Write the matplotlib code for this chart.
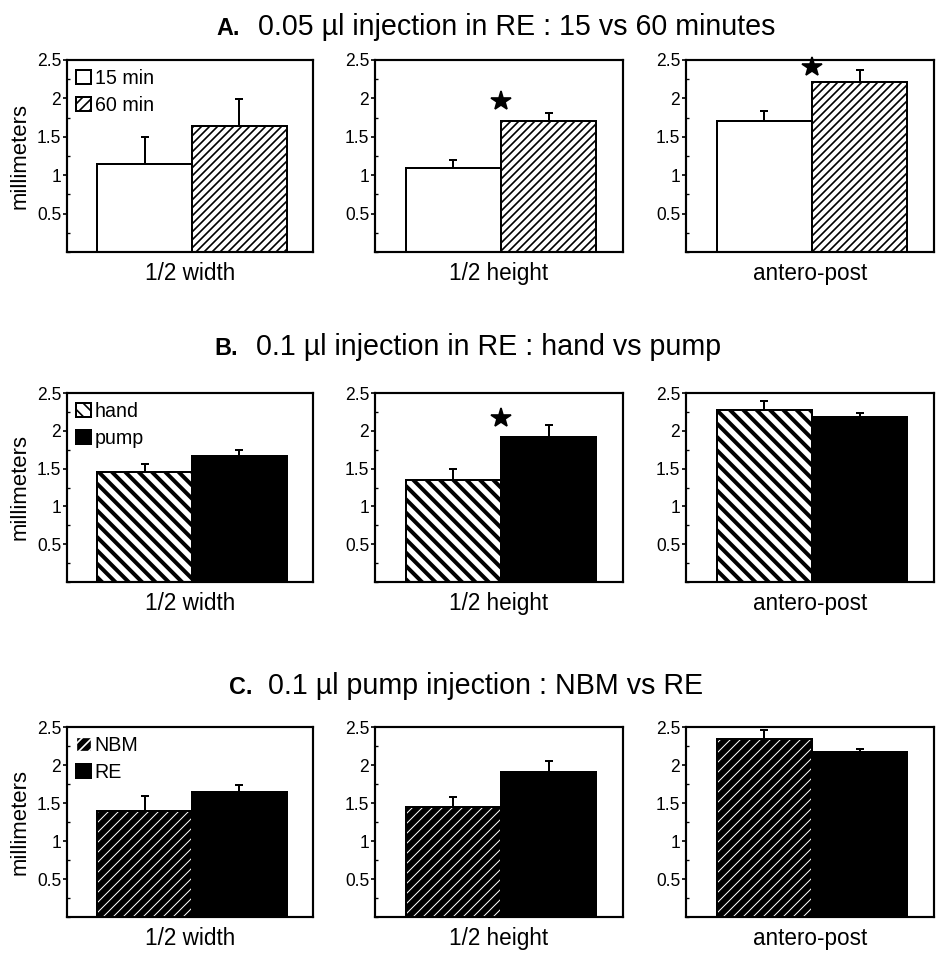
import matplotlib
matplotlib.use("Agg")
import matplotlib.pyplot as plt
from matplotlib.patches import Patch
from matplotlib.ticker import MultipleLocator, FixedLocator

plt.rcParams['font.family'] = ['Liberation Sans', 'DejaVu Sans']

# Data (mm); each panel: (bar values, upper error tops)
measures = ["1/2 width", "1/2 height", "antero-post"]

a_labels = ["15 min", "60 min"]
a_vals = [[1.14, 1.64], [1.10, 1.71], [1.71, 2.21]]
a_err = [[1.50, 1.99], [1.20, 1.81], [1.83, 2.37]]
a_star = [False, True, True]

b_labels = ["hand", "pump"]
b_vals = [[1.46, 1.67], [1.35, 1.92], [2.28, 2.18]]
b_err = [[1.56, 1.75], [1.49, 2.08], [2.39, 2.24]]
b_star = [False, True, False]

c_labels = ["NBM", "RE"]
c_vals = [[1.39, 1.65], [1.45, 1.91], [2.34, 2.17]]
c_err = [[1.59, 1.74], [1.58, 2.05], [2.46, 2.21]]
c_star = [False, False, False]

titles = [("A.", "0.05 \u00b5l injection in RE : 15 vs 60 minutes"),
          ("B.", "0.1 \u00b5l injection in RE : hand vs pump"),
          ("C.", "0.1 \u00b5l pump injection : NBM vs RE")]

W, H = 942, 954
fig = plt.figure(figsize=(W / 120, H / 120), dpi=120)

col_px = [(67, 246), (375, 248), (686, 248)]
row_px = [(60, 252), (393, 582), (727, 917)]
title_px = [(240, 258, 35), (238, 256, 355), (253, 268, 694)]


def style_bar(patch, hatch=None, hlw=1.0, fc='white', ec='black'):
    patch.set_facecolor(fc)
    patch.set_edgecolor(ec)
    if hatch:
        patch.set_hatch(hatch)
        try:
            patch.set_hatch_linewidth(hlw)
        except AttributeError:
            pass


def draw_first(ax, x, v, kind):
    if kind == 'A':
        b = ax.bar([x], [v], width=1.0, linewidth=1.2)[0]
        style_bar(b)
    elif kind == 'B':
        b = ax.bar([x], [v], width=1.0, linewidth=1.2)[0]
        style_bar(b, hatch='\\\\\\', hlw=2.4)
    else:
        b = ax.bar([x], [v], width=1.0, linewidth=0)[0]
        style_bar(b, hatch='////', hlw=0.6, fc='black', ec='white')
        b.set_linewidth(0)
        ax.bar([x], [v], width=1.0, linewidth=1.2, fill=False,
               edgecolor='black')


def draw_second(ax, x, v, kind):
    b = ax.bar([x], [v], width=1.0, linewidth=1.2)[0]
    if kind == 'A':
        style_bar(b, hatch='/////', hlw=1.0)
    else:
        style_bar(b, fc='black')


def legend_handles(kind):
    if kind == 'A':
        h1 = Patch(facecolor='white', edgecolor='black', linewidth=1.2)
        h2 = Patch(facecolor='white', edgecolor='black', linewidth=1.2, hatch='////')
    elif kind == 'B':
        h1 = Patch(facecolor='white', edgecolor='black', linewidth=1.2, hatch='\\\\\\')
        h2 = Patch(facecolor='black', edgecolor='black', linewidth=1.2)
    else:
        h1 = Patch(facecolor='black', edgecolor='white', linewidth=0.8, hatch='////')
        h2 = Patch(facecolor='black', edgecolor='black', linewidth=1.2)
    try:
        h1.set_hatch_linewidth(1.8 if kind == 'B' else 0.8)
    except AttributeError:
        pass
    return [h1, h2]


groups = [("A", a_labels, a_vals, a_err, a_star),
          ("B", b_labels, b_vals, b_err, b_star),
          ("C", c_labels, c_vals, c_err, c_star)]

for r, (kind, labels, vals, errs, stars) in enumerate(groups):
    top, bot = row_px[r]
    for c in range(3):
        left, width = col_px[c]
        ax = fig.add_axes([left / W, 1 - bot / H, width / W, (bot - top) / H])
        v1, v2 = vals[c]
        e1, e2 = errs[c]
        draw_first(ax, 0, v1, kind)
        draw_second(ax, 1, v2, kind)
        ax.errorbar([0, 1], [v1, v2], yerr=[[0, 0], [e1 - v1, e2 - v2]],
                    fmt='none', ecolor='black', elinewidth=1.2, capsize=2.5,
                    capthick=1.2)
        if stars[c]:
            ax.plot([0.5], [max(e1, e2) + 0.04 if c == 2 else v2 + 0.25],
                    marker='*', color='black', markersize=12, linestyle='none',
                    clip_on=False)
        ax.set_xlim(-0.82, 1.78)
        ax.set_ylim(0, 2.5)
        ax.set_xticks([])
        ax.yaxis.set_major_locator(FixedLocator([0.5, 1, 1.5, 2, 2.5]))
        ax.set_yticklabels(['0.5', '1', '1.5', '2', '2.5'])
        ax.yaxis.set_minor_locator(MultipleLocator(0.25))
        ax.tick_params(axis='y', which='major', length=2.5, width=1,
                       labelsize=10.5, pad=1)
        ax.tick_params(axis='y', which='minor', length=2, width=0.8,
                       direction='in')
        for s in ax.spines.values():
            s.set_linewidth(1.3)
        ax.set_xlabel(measures[c], fontsize=13.5, labelpad=6)
        if c == 0:
            ax.set_ylabel("millimeters", fontsize=13.3, labelpad=4)
            ax.legend(legend_handles(kind), labels, loc='upper left',
                      frameon=False, fontsize=11.8, handlelength=0.75,
                      handleheight=0.75, handletextpad=0.2,
                      labelspacing=0.4, borderaxespad=0.25,
                      borderpad=0.2)

    bx, tx, by = title_px[r]
    fig.text(bx / W, 1 - by / H, titles[r][0], ha='right', va='baseline',
             fontsize=14, fontweight='bold')
    fig.text(tx / W, 1 - by / H, titles[r][1], ha='left', va='baseline',
             fontsize=17.2)

fig.savefig("out.png", dpi=120)
